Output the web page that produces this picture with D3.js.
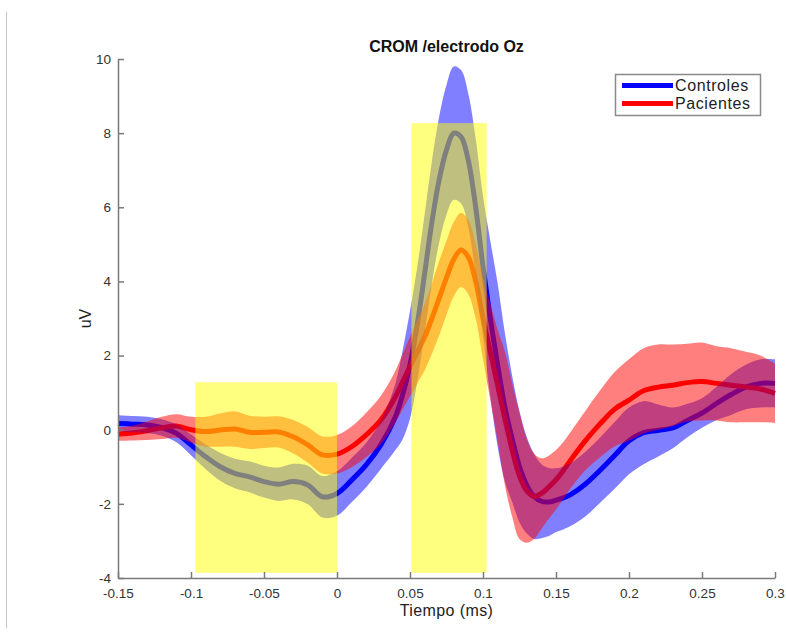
<!DOCTYPE html>
<html>
<head>
<meta charset="utf-8">
<script src="https://cdn.jsdelivr.net/npm/d3@7"></script>
<style>
  html, body { margin: 0; padding: 0; background: #ffffff; }
  svg { display: block; font-family: "Liberation Sans", Arial, Helvetica, sans-serif; }
</style>
</head>
<body>
<svg id="chart" width="786" height="635"></svg>
<script>
// ---- data ----
const time = [-0.15,-0.14,-0.13,-0.12,-0.11,-0.10,-0.09,-0.08,-0.07,-0.06,-0.05,-0.04,-0.03,-0.02,-0.01,0,0.01,0.02,0.03,
  0.04,0.045,0.05,0.055,0.06,0.065,0.07,0.075,0.08,0.085,0.09,0.095,0.10,0.105,0.11,0.115,0.12,0.125,0.13,0.135,0.14,0.145,0.15,0.155,0.16,
  0.17,0.18,0.19,0.20,0.21,0.22,0.23,0.24,0.25,0.26,0.27,0.28,0.29,0.30];

const controlesMean = [0.17,0.15,0.13,0.06,-0.10,-0.41,-0.73,-1.00,-1.18,-1.27,-1.40,-1.47,-1.40,-1.49,-1.81,-1.72,-1.36,-0.95,-0.41,
  0.35,0.95,1.75,2.85,4.2,5.6,6.75,7.55,8.0,7.9,7.25,6.0,4.4,3.0,1.75,0.6,-0.25,-1.0,-1.5,-1.8,-1.93,-1.95,-1.9,-1.84,-1.75,
  -1.47,-1.1,-0.7,-0.3,-0.08,-0.02,0.05,0.25,0.45,0.71,0.95,1.15,1.25,1.25];

const controlesErr = [0.22,0.22,0.22,0.22,0.24,0.28,0.33,0.38,0.40,0.42,0.43,0.45,0.48,0.52,0.56,0.6,0.6,0.6,0.65,
  0.9,1.2,1.45,1.55,1.6,1.65,1.7,1.75,1.8,1.8,1.8,1.85,1.9,2.1,2.2,2.0,1.7,1.5,1.3,1.15,1.0,0.92,0.86,0.85,0.85,
  0.87,0.88,0.9,0.9,0.85,0.7,0.55,0.45,0.4,0.45,0.55,0.6,0.65,0.65];

const pacientesMean = [-0.12,-0.09,-0.03,0.05,0.10,0.0,-0.05,-0.01,0.02,-0.07,-0.07,-0.06,-0.19,-0.41,-0.68,-0.66,-0.46,-0.14,0.26,
  0.89,1.3,1.7,2.1,2.5,3.0,3.55,4.1,4.6,4.85,4.65,4.0,3.0,2.1,1.2,0.3,-0.55,-1.25,-1.65,-1.8,-1.72,-1.55,-1.35,-1.1,-0.82,
  -0.3,0.15,0.55,0.8,1.05,1.15,1.2,1.27,1.3,1.25,1.2,1.15,1.1,0.98];

const pacientesErr = [0.18,0.2,0.25,0.3,0.32,0.35,0.4,0.45,0.48,0.45,0.42,0.42,0.45,0.48,0.5,0.52,0.55,0.6,0.65,
  0.7,0.75,0.8,0.85,0.9,0.95,1.0,1.0,1.0,1.0,1.0,1.0,1.1,1.3,1.5,1.8,1.8,1.7,1.4,1.15,0.95,0.85,0.8,0.77,0.76,
  0.8,0.9,1.0,1.1,1.15,1.15,1.1,1.05,1.05,1.0,1.0,0.95,0.9,0.8];

// highlighted analysis windows
const windowStart = [-0.097, 0.051];
const windowEnd   = [0.0, 0.1025];
const windowLow   = [-3.86, -3.86];
const windowHigh  = [1.28, 8.27];

const xTicks = [-0.15,-0.1,-0.05,0,0.05,0.1,0.15,0.2,0.25,0.3];
const xTickLabels = ["-0.15","-0.1","-0.05","0","0.05","0.1","0.15","0.2","0.25","0.3"];
const yTicks = [-4,-2,0,2,4,6,8,10];
const yTickLabels = ["-4","-2","0","2","4","6","8","10"];

const seriesNames = ["Controles","Pacientes"];
const seriesColors = ["#0000ff","#ff0000"];

// ---- drawing ----
const svg = d3.select("#chart");
const L = 118, R = 775, T = 59, B = 578;
const x = d3.scaleLinear().domain([-0.15, 0.3]).range([L, R]);
const y = d3.scaleLinear().domain([-4, 10]).range([B, T]);

// thin frame line at the far left
svg.append("line").attr("x1", 6.5).attr("x2", 6.5).attr("y1", 12).attr("y2", 628)
  .attr("stroke", "#c4c4c4").attr("stroke-width", 1);

const series = [
  {mean: controlesMean, err: controlesErr, color: seriesColors[0]},
  {mean: pacientesMean, err: pacientesErr, color: seriesColors[1]}
];
const rows = s => time.map((t, i) => ({t, m: s.mean[i], e: s.err[i]}));

const curve = d3.curveCatmullRom.alpha(0.5);
const line = d3.line().x(d => x(d.t)).y(d => y(d.m)).curve(curve);
const area = d3.area().x(d => x(d.t)).y0(d => y(d.m - d.e)).y1(d => y(d.m + d.e)).curve(curve);

const g = svg.append("g");
// mean lines underneath
series.forEach(s => {
  g.append("path").datum(rows(s)).attr("d", line)
    .attr("fill", "none").attr("stroke", s.color).attr("stroke-width", 5)
    .attr("stroke-linejoin", "round");
});
// translucent error bands on top
series.forEach(s => {
  g.append("path").datum(rows(s)).attr("d", area)
    .attr("fill", s.color).attr("fill-opacity", 0.5).attr("stroke", "none");
});
// yellow windows
windowStart.forEach((ws, i) => {
  g.append("rect")
    .attr("x", x(ws)).attr("width", x(windowEnd[i]) - x(ws))
    .attr("y", y(windowHigh[i])).attr("height", y(windowLow[i]) - y(windowHigh[i]))
    .attr("fill", "#ffff00").attr("fill-opacity", 0.5);
});

// axes
const axisColor = "#7a7a7a";
const xAxis = d3.axisBottom(x).tickValues(xTicks)
  .tickFormat((d, i) => xTickLabels[i]).tickSizeInner(-6).tickSizeOuter(0).tickPadding(10);
const yAxis = d3.axisLeft(y).tickValues(yTicks)
  .tickFormat((d, i) => yTickLabels[i]).tickSizeInner(-6).tickSizeOuter(0).tickPadding(7);

const gx = svg.append("g").attr("transform", `translate(0,${B})`).call(xAxis);
const gy = svg.append("g").attr("transform", `translate(${L},0)`).call(yAxis);
[gx, gy].forEach(a => {
  a.select(".domain").attr("stroke", axisColor).attr("stroke-width", 1.5);
  a.selectAll(".tick line").attr("stroke", axisColor).attr("stroke-width", 1.5);
  a.selectAll(".tick text").attr("fill", "#333").attr("font-size", 13.5)
    .attr("font-family", "'Liberation Sans', Arial, sans-serif");
});

// title and labels
svg.append("text").attr("x", (L + R) / 2).attr("y", 52).attr("text-anchor", "middle")
  .attr("font-weight", "bold").attr("font-size", 16).attr("fill", "#111")
  .text("CROM /electrodo Oz");
svg.append("text").attr("x", (L + R) / 2).attr("y", 616).attr("text-anchor", "middle")
  .attr("font-size", 16).attr("letter-spacing", 0.4).attr("fill", "#222").text("Tiempo (ms)");
svg.append("text").attr("transform", `translate(91,${(T + B) / 2}) rotate(-90)`)
  .attr("text-anchor", "middle").attr("font-size", 16).attr("fill", "#222").text("uV");

// legend
const lg = svg.append("g");
lg.append("rect").attr("x", 615.5).attr("y", 74.5).attr("width", 145).attr("height", 41)
  .attr("fill", "#fff").attr("stroke", "#8a8a8a").attr("stroke-width", 1.5);
seriesNames.forEach((n, i) => {
  const yy = 85.5 + i * 18;
  lg.append("line").attr("x1", 622).attr("x2", 673).attr("y1", yy).attr("y2", yy)
    .attr("stroke", seriesColors[i]).attr("stroke-width", 5);
  lg.append("text").attr("x", 675).attr("y", yy + 5.5).attr("font-size", 16)
    .attr("letter-spacing", 0.6).attr("fill", "#222").text(n);
});
</script>
</body>
</html>
